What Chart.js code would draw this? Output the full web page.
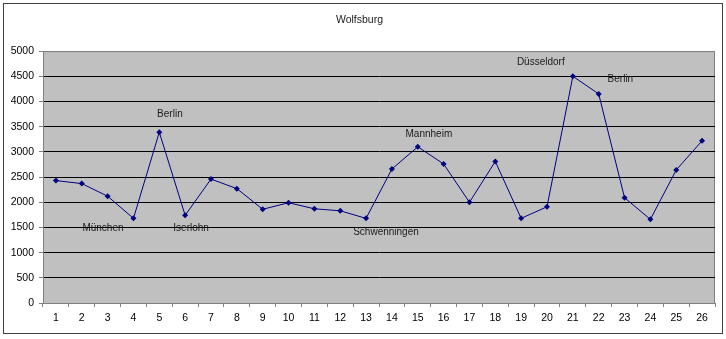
<!DOCTYPE html>
<html lang="de">
<head>
    <meta charset="UTF-8">
    <title>Wolfsburg</title>
    <style>
        body {
            margin: 0;
            padding: 0;
            background-color: white;
        }
        #chart {
            display: block;
        }
    </style>
</head>
<body>
    <canvas id="chart" width="726" height="339"></canvas>

    <script src="https://cdn.jsdelivr.net/npm/chart.js"></script>
    <script>
        // Spieltage und Zuschauerzahlen
        const spiele = ['1', '2', '3', '4', '5', '6', '7', '8', '9', '10', '11', '12', '13',
                        '14', '15', '16', '17', '18', '19', '20', '21', '22', '23', '24', '25', '26'];
        const zuschauer = [2430, 2370, 2120, 1680, 3390, 1740, 2460, 2270, 1860, 1990, 1870, 1830, 1680,
                           2660, 3100, 2760, 2000, 2810, 1680, 1910, 4500, 4150, 2090, 1660, 2640, 3220];

        // Beschriftungen der Gegner (Position in Kategorie-Index und Wert)
        const gegnerText = ['München', 'Berlin', 'Iserlohn', 'Schwenningen', 'Mannheim', 'Düsseldorf', 'Berlin'];
        const gegnerKat  = [1.82, 4.41, 5.23, 12.77, 14.43, 18.76, 21.84];
        const gegnerWert = [1490, 3750, 1490, 1395, 3340, 4770, 4450];

        const yTicks = [0, 500, 1000, 1500, 2000, 2500, 3000, 3500, 4000, 4500, 5000];

        const schrift = "'Liberation Sans', Arial, sans-serif";

        // Hintergrund, Rahmen und grauer Plotbereich
        const hintergrund = {
            id: 'hintergrund',
            beforeDraw(chart) {
                const { ctx, chartArea: a } = chart;
                ctx.save();
                ctx.fillStyle = 'white';
                ctx.fillRect(0, 0, chart.width, chart.height);
                ctx.strokeStyle = '#404040';
                ctx.lineWidth = 1;
                ctx.strokeRect(3.5, 3.5, chart.width - 7, chart.height - 9);
                ctx.fillStyle = '#c0c0c0';
                ctx.fillRect(a.left, a.top, a.right - a.left, a.bottom - a.top);
                ctx.strokeStyle = '#808080';
                ctx.strokeRect(a.left + 0.5, a.top + 0.5, a.right - a.left - 1, a.bottom - a.top);
                ctx.restore();
            }
        };

        // Gegnernamen über die Skalen platzieren
        const gegner = {
            id: 'gegner',
            afterDatasetsDraw(chart) {
                const { ctx, scales } = chart;
                ctx.save();
                ctx.font = '10px ' + schrift;
                ctx.fillStyle = '#1a1a1a';
                ctx.textAlign = 'center';
                ctx.textBaseline = 'middle';
                gegnerText.forEach((t, i) => {
                    ctx.fillText(t, scales.x.getPixelForValue(gegnerKat[i]), scales.y.getPixelForValue(gegnerWert[i]));
                });
                ctx.restore();
            }
        };

        new Chart(document.getElementById('chart'), {
            type: 'line',
            data: {
                labels: spiele,
                datasets: [{
                    label: 'Wolfsburg',
                    data: zuschauer,
                    borderColor: '#000080',
                    backgroundColor: '#000080',
                    borderWidth: 1,
                    pointStyle: 'rectRot',
                    pointRadius: 3,
                    pointBorderWidth: 0,
                    tension: 0,
                    fill: false
                }]
            },
            options: {
                responsive: false,
                animation: false,
                layout: {
                    padding: { top: 6, left: 4, right: 11, bottom: 6 }
                },
                plugins: {
                    legend: { display: false },
                    tooltip: { enabled: false },
                    title: {
                        display: true,
                        text: 'Wolfsburg',
                        color: '#1a1a1a',
                        font: { family: schrift, size: 10.5, weight: 'normal' },
                        padding: { top: 8, bottom: 24.5 }
                    }
                },
                scales: {
                    x: {
                        offset: true,
                        grid: {
                            offset: true,
                            drawOnChartArea: false,
                            drawTicks: true,
                            tickLength: 4,
                            color: '#808080'
                        },
                        border: { color: '#808080' },
                        ticks: {
                            color: '#000',
                            padding: 5,
                            maxRotation: 0,
                            autoSkip: false,
                            font: { family: schrift, size: 10.5 }
                        },
                        afterFit(s) { s.height = 30; }
                    },
                    y: {
                        min: 0,
                        max: 5000,
                        afterBuildTicks(s) { s.ticks = yTicks.map(v => ({ value: v })); },
                        grid: {
                            color: ctx => (ctx.tick && ctx.tick.value === 5000 ? '#808080' : '#000'),
                            tickColor: '#808080',
                            tickLength: 4,
                            lineWidth: 1
                        },
                        border: { color: '#808080' },
                        ticks: {
                            color: '#000',
                            padding: 5,
                            font: { family: schrift, size: 10.5 },
                            callback: v => String(v)
                        },
                        afterFit(s) { s.width = 39; }
                    }
                }
            },
            plugins: [hintergrund, gegner]
        });
    </script>
</body>
</html>
